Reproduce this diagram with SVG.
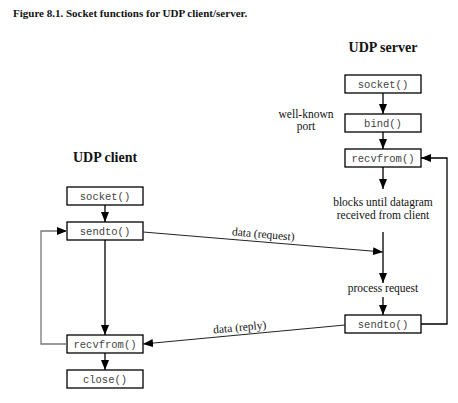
<svg xmlns="http://www.w3.org/2000/svg" width="458" height="403" viewBox="0 0 458 403">
<defs>
<marker id="ah" markerUnits="userSpaceOnUse" markerWidth="10" markerHeight="10" viewBox="0 0 10 10" refX="10" refY="5" orient="auto">
<path d="M0,1 L10,5 L0,9 Z" fill="#000"/>
</marker>
</defs>
<style>
.box{fill:#fff;stroke:#000;stroke-width:1.3}
.fn{font-family:'Liberation Mono','Courier New',monospace;font-size:10.5px;fill:#444;text-anchor:middle}
.lbl{font-family:'Liberation Serif','Times New Roman',serif;font-size:11.5px;fill:#111;text-anchor:middle}
.hd{font-family:'Liberation Serif','Times New Roman',serif;font-size:14px;font-weight:bold;fill:#111;text-anchor:middle}
.ttl{font-family:'Liberation Serif','Times New Roman',serif;font-size:11px;font-weight:bold;fill:#111}
.ln{fill:none;stroke:#000;stroke-width:1.3}
.thin{fill:none;stroke:#222;stroke-width:1}
.gr{fill:none;stroke:#777;stroke-width:1.3}
</style>
<rect width="458" height="403" fill="#fff"/>
<text class="ttl" x="13" y="17">Figure 8.1. Socket functions for UDP client/server.</text>
<text class="hd" x="383" y="52">UDP server</text>
<text class="hd" x="105" y="162">UDP client</text>
<g id="srv-socket"><rect class="box" x="345" y="75" width="76" height="18"/><text class="fn" x="383" y="87.5">socket()</text></g>
<g id="srv-bind"><rect class="box" x="345" y="114" width="76" height="18"/><text class="fn" x="383" y="126.5">bind()</text></g>
<g id="srv-recvfrom"><rect class="box" x="345" y="149" width="76" height="18"/><text class="fn" x="383" y="161.5">recvfrom()</text></g>
<g id="srv-sendto"><rect class="box" x="345" y="315" width="76" height="18"/><text class="fn" x="383" y="327.5">sendto()</text></g>
<g id="cli-socket"><rect class="box" x="67" y="187" width="76" height="18"/><text class="fn" x="105" y="199.5">socket()</text></g>
<g id="cli-sendto"><rect class="box" x="67" y="222" width="76" height="18"/><text class="fn" x="105" y="234.5">sendto()</text></g>
<g id="cli-recvfrom"><rect class="box" x="67" y="335" width="76" height="18"/><text class="fn" x="105" y="347.5">recvfrom()</text></g>
<g id="cli-close"><rect class="box" x="67" y="370" width="76" height="18"/><text class="fn" x="105" y="382.5">close()</text></g>
<g id="notes">
<text class="lbl" x="306" y="118">well-known</text>
<text class="lbl" x="306" y="130">port</text>
<text class="lbl" x="383" y="206">blocks until datagram</text>
<text class="lbl" x="383" y="219">received from client</text>
<text class="lbl" x="383" y="292">process request</text>
</g>
<g id="connectors">
<line class="ln" x1="383" y1="93" x2="383" y2="114" marker-end="url(#ah)"/>
<line class="ln" x1="383" y1="132" x2="383" y2="149" marker-end="url(#ah)"/>
<line class="ln" x1="383" y1="167" x2="383" y2="189" marker-end="url(#ah)"/>
<line class="ln" x1="383" y1="232" x2="383" y2="283" marker-end="url(#ah)"/>
<line class="ln" x1="383" y1="297" x2="383" y2="315" marker-end="url(#ah)"/>
<polyline class="ln" points="421,324 447,324 447,158 421,158" marker-end="url(#ah)"/>
<line class="ln" x1="105" y1="205" x2="105" y2="222" marker-end="url(#ah)"/>
<line class="ln" x1="105" y1="240" x2="105" y2="335" marker-end="url(#ah)"/>
<line class="ln" x1="105" y1="353" x2="105" y2="370" marker-end="url(#ah)"/>
<polyline class="gr" points="67,344 41,344 41,231 67,231" marker-end="url(#ah)"/>
<line class="thin" x1="143" y1="232" x2="383" y2="252" marker-end="url(#ah)"/>
<line class="thin" x1="345" y1="325" x2="143" y2="344" marker-end="url(#ah)"/>
<text class="lbl" x="263" y="238" transform="rotate(4.8 263 238)">data (request)</text>
<text class="lbl" x="240" y="331" transform="rotate(-5.4 240 331)">data (reply)</text>
</g>
</svg>
